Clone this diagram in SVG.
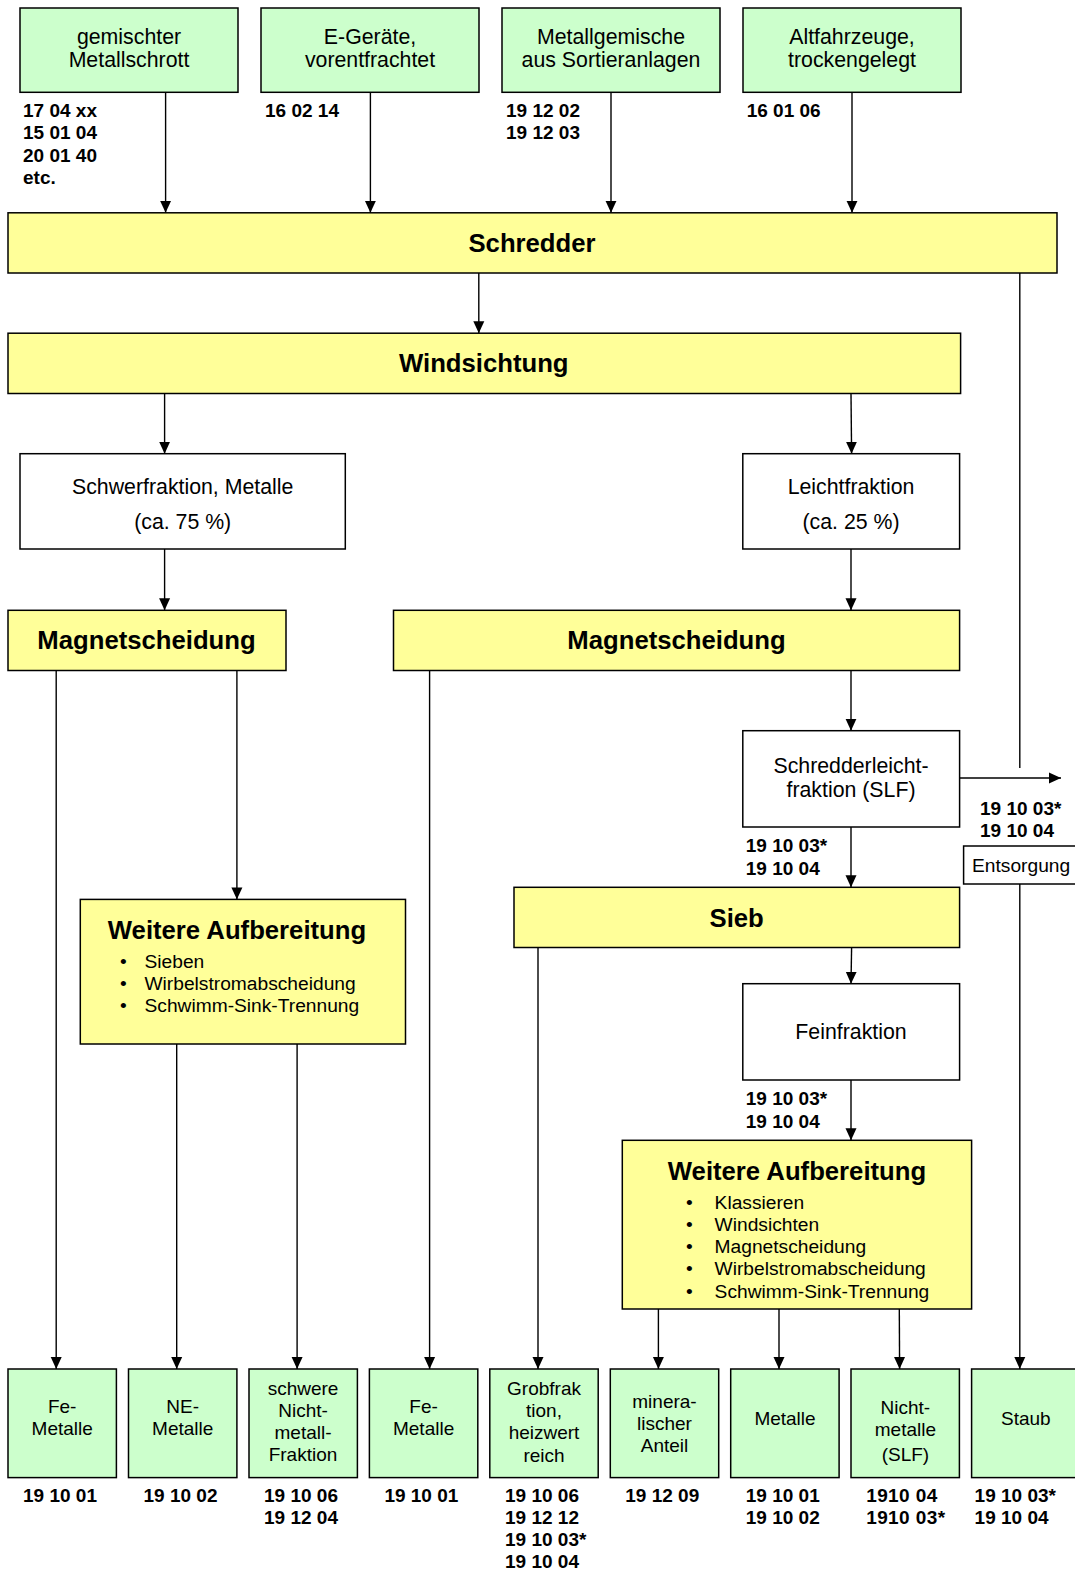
<svg xmlns="http://www.w3.org/2000/svg" width="1075" height="1574" viewBox="0 0 1075 1574">
<defs>
<marker id="ah" markerUnits="userSpaceOnUse" markerWidth="12" markerHeight="12" viewBox="0 0 12 12" refX="12" refY="6" orient="auto">
<path d="M0,0.5 L12,6 L0,11.5 Z" fill="#000"/>
</marker>
<style>
text{font-family:"Liberation Sans",Arial,sans-serif;fill:#000}
.g{fill:#ccffcc;stroke:#000;stroke-width:1.5}
.y{fill:#ffff99;stroke:#000;stroke-width:1.5}
.w{fill:#fff;stroke:#000;stroke-width:1.5}
.t{font-size:21.3px;text-anchor:middle}
.tb{font-size:19px;text-anchor:middle}
.h{font-size:25.7px;font-weight:bold;text-anchor:middle}
.c{font-size:19px;font-weight:bold}
.b{font-size:19.2px}
.l{fill:none;stroke:#000;stroke-width:1.4}
.a{fill:none;stroke:#000;stroke-width:1.4;marker-end:url(#ah)}
</style>
</defs>
<rect width="1075" height="1574" fill="#fff"/>

<g id="connectors">
<line class="a" x1="165.6" y1="92.3" x2="165.6" y2="212.8"/>
<line class="a" x1="370.4" y1="92.3" x2="370.4" y2="212.8"/>
<line class="a" x1="611" y1="92.3" x2="611" y2="212.8"/>
<line class="a" x1="852" y1="92.3" x2="852" y2="212.8"/>
<line class="a" x1="478.8" y1="273" x2="478.8" y2="333.2"/>
<line class="l" x1="1019.8" y1="273" x2="1019.8" y2="768"/>
<line class="a" x1="959.6" y1="778" x2="1061" y2="778"/>
<line class="a" x1="1019.8" y1="884" x2="1019.8" y2="1369"/>
<line class="a" x1="164.6" y1="393.5" x2="164.6" y2="453.7"/>
<line class="a" x1="851" y1="393.5" x2="851.6" y2="453.7"/>
<line class="a" x1="164.6" y1="549" x2="164.6" y2="610.3"/>
<line class="a" x1="851" y1="549" x2="851" y2="610.3"/>
<line class="a" x1="56.2" y1="670.5" x2="56.2" y2="1369"/>
<line class="a" x1="236.9" y1="670.5" x2="236.9" y2="899.4"/>
<line class="a" x1="176.7" y1="1044" x2="176.7" y2="1369"/>
<line class="a" x1="297.1" y1="1044" x2="297.1" y2="1369"/>
<line class="a" x1="429.6" y1="670.5" x2="429.6" y2="1369"/>
<line class="a" x1="851" y1="670.5" x2="851" y2="730.7"/>
<line class="a" x1="851" y1="827" x2="851" y2="887.3"/>
<line class="a" x1="538" y1="947.5" x2="538" y2="1369"/>
<line class="a" x1="851.6" y1="947.5" x2="851" y2="983.7"/>
<line class="a" x1="851" y1="1080" x2="851" y2="1140.3"/>
<line class="a" x1="658.4" y1="1309" x2="658.4" y2="1369"/>
<line class="a" x1="779" y1="1309" x2="779" y2="1369"/>
<line class="a" x1="899.3" y1="1309" x2="899.6" y2="1369"/>
</g>

<g id="in1">
<rect class="g" x="20" y="8" width="218" height="84.3"/>
<text class="t" x="129" y="43.5">gemischter</text>
<text class="t" x="129" y="66.5">Metallschrott</text>
<text class="c" x="23" y="117">17 04 xx</text>
<text class="c" x="23" y="139">15 01 04</text>
<text class="c" x="23" y="162">20 01 40</text>
<text class="c" x="23" y="184">etc.</text>
</g>
<g id="in2">
<rect class="g" x="261" y="8" width="218" height="84.3"/>
<text class="t" x="370" y="43.5">E-Geräte,</text>
<text class="t" x="370" y="66.5">vorentfrachtet</text>
<text class="c" x="265" y="117">16 02 14</text>
</g>
<g id="in3">
<rect class="g" x="502" y="8" width="218" height="84.3"/>
<text class="t" x="611" y="43.5">Metallgemische</text>
<text class="t" x="611" y="66.5">aus Sortieranlagen</text>
<text class="c" x="506" y="117">19 12 02</text>
<text class="c" x="506" y="139">19 12 03</text>
</g>
<g id="in4">
<rect class="g" x="743" y="8" width="218" height="84.3"/>
<text class="t" x="852" y="43.5">Altfahrzeuge,</text>
<text class="t" x="852" y="66.5">trockengelegt</text>
<text class="c" x="746.7" y="117">16 01 06</text>
</g>

<g id="schredder">
<rect class="y" x="8" y="212.8" width="1049" height="60.2"/>
<text class="h" x="532" y="252">Schredder</text>
</g>
<g id="windsichtung">
<rect class="y" x="8" y="333.2" width="952.6" height="60.3"/>
<text class="h" x="483.8" y="372">Windsichtung</text>
</g>
<g id="schwerfraktion">
<rect class="w" x="20" y="453.7" width="325.3" height="95.3"/>
<text class="t" x="182.7" y="493.5">Schwerfraktion, Metalle</text>
<text class="t" x="182.7" y="528.5">(ca. 75 %)</text>
</g>
<g id="leichtfraktion">
<rect class="w" x="742.8" y="453.7" width="216.8" height="95.3"/>
<text class="t" x="851" y="493.5">Leichtfraktion</text>
<text class="t" x="851" y="528.5">(ca. 25 %)</text>
</g>
<g id="magnet1">
<rect class="y" x="8" y="610.3" width="278" height="60.2"/>
<text class="h" x="146.5" y="649">Magnetscheidung</text>
</g>
<g id="magnet2">
<rect class="y" x="393.5" y="610.3" width="566.1" height="60.2"/>
<text class="h" x="676.5" y="649">Magnetscheidung</text>
</g>
<g id="aufbereitung1">
<rect class="y" x="80.3" y="899.4" width="325.2" height="144.6"/>
<text class="h" x="237" y="938.5">Weitere Aufbereitung</text>
<text class="b" x="120" y="968">•</text><text class="b" x="144.5" y="968">Sieben</text>
<text class="b" x="120" y="990">•</text><text class="b" x="144.5" y="990">Wirbelstromabscheidung</text>
<text class="b" x="120" y="1012">•</text><text class="b" x="144.5" y="1012">Schwimm-Sink-Trennung</text>
</g>
<g id="slf">
<rect class="w" x="742.8" y="730.7" width="216.8" height="96.3"/>
<text class="t" x="851" y="772.5">Schredderleicht-</text>
<text class="t" x="851" y="796.5">fraktion (SLF)</text>
<text class="c" x="745.8" y="851.5">19 10 03*</text>
<text class="c" x="745.8" y="874.5">19 10 04</text>
</g>
<g id="entsorgung">
<text class="c" x="980" y="814.5">19 10 03*</text>
<text class="c" x="980" y="836.5">19 10 04</text>
<rect class="w" x="963.6" y="846" width="116" height="38"/>
<text class="b" x="972" y="872">Entsorgung</text>
</g>
<g id="sieb">
<rect class="y" x="514" y="887.3" width="445.6" height="60.2"/>
<text class="h" x="736.7" y="927.4">Sieb</text>
</g>
<g id="feinfraktion">
<rect class="w" x="742.8" y="983.7" width="216.8" height="96.3"/>
<text class="t" x="851" y="1038.5">Feinfraktion</text>
<text class="c" x="745.8" y="1104.5">19 10 03*</text>
<text class="c" x="745.8" y="1127.5">19 10 04</text>
</g>
<g id="aufbereitung2">
<rect class="y" x="622.3" y="1140.3" width="349.3" height="168.7"/>
<text class="h" x="797" y="1179.5">Weitere Aufbereitung</text>
<text class="b" x="686" y="1209">•</text><text class="b" x="714.6" y="1209">Klassieren</text>
<text class="b" x="686" y="1231">•</text><text class="b" x="714.6" y="1231">Windsichten</text>
<text class="b" x="686" y="1253">•</text><text class="b" x="714.6" y="1253">Magnetscheidung</text>
<text class="b" x="686" y="1275">•</text><text class="b" x="714.6" y="1275">Wirbelstromabscheidung</text>
<text class="b" x="686" y="1297.5">•</text><text class="b" x="714.6" y="1297.5">Schwimm-Sink-Trennung</text>
</g>

<g id="out1">
<rect class="g" x="8" y="1369" width="108.4" height="108.6"/>
<text class="tb" x="62.2" y="1413">Fe-</text>
<text class="tb" x="62.2" y="1435">Metalle</text>
<text class="c" x="23" y="1502">19 10 01</text>
</g>
<g id="out2">
<rect class="g" x="128.5" y="1369" width="108.4" height="108.6"/>
<text class="tb" x="182.7" y="1413">NE-</text>
<text class="tb" x="182.7" y="1435">Metalle</text>
<text class="c" x="143.5" y="1502">19 10 02</text>
</g>
<g id="out3">
<rect class="g" x="249" y="1369" width="108.4" height="108.6"/>
<text class="tb" x="303" y="1395">schwere</text>
<text class="tb" x="303" y="1417">Nicht-</text>
<text class="tb" x="303" y="1439">metall-</text>
<text class="tb" x="303" y="1461">Fraktion</text>
<text class="c" x="264" y="1502">19 10 06</text>
<text class="c" x="264" y="1524">19 12 04</text>
</g>
<g id="out4">
<rect class="g" x="369.4" y="1369" width="108.4" height="108.6"/>
<text class="tb" x="423.6" y="1413">Fe-</text>
<text class="tb" x="423.6" y="1435">Metalle</text>
<text class="c" x="384.4" y="1502">19 10 01</text>
</g>
<g id="out5">
<rect class="g" x="489.8" y="1369" width="108.4" height="108.6"/>
<text class="tb" x="544" y="1395">Grobfrak</text>
<text class="tb" x="544" y="1417">tion,</text>
<text class="tb" x="544" y="1439">heizwert</text>
<text class="tb" x="544" y="1462">reich</text>
<text class="c" x="505" y="1502">19 10 06</text>
<text class="c" x="505" y="1524">19 12 12</text>
<text class="c" x="505" y="1546">19 10 03*</text>
<text class="c" x="505" y="1568">19 10 04</text>
</g>
<g id="out6">
<rect class="g" x="610.3" y="1369" width="108.4" height="108.6"/>
<text class="tb" x="664.5" y="1408">minera-</text>
<text class="tb" x="664.5" y="1430">lischer</text>
<text class="tb" x="664.5" y="1452">Anteil</text>
<text class="c" x="625.3" y="1502">19 12 09</text>
</g>
<g id="out7">
<rect class="g" x="730.7" y="1369" width="108.4" height="108.6"/>
<text class="tb" x="785" y="1425">Metalle</text>
<text class="c" x="745.8" y="1502">19 10 01</text>
<text class="c" x="745.8" y="1524">19 10 02</text>
</g>
<g id="out8">
<rect class="g" x="851" y="1369" width="108.4" height="108.6"/>
<text class="tb" x="905.4" y="1414">Nicht-</text>
<text class="tb" x="905.4" y="1436">metalle</text>
<text class="tb" x="905.4" y="1461">(SLF)</text>
<text class="c" x="866.2" y="1502" letter-spacing="0.4">1910 04</text>
<text class="c" x="866.2" y="1524" letter-spacing="0.4">1910 03*</text>
</g>
<g id="out9">
<rect class="g" x="971.6" y="1369" width="108.4" height="108.6"/>
<text class="tb" x="1025.8" y="1425">Staub</text>
<text class="c" x="974.6" y="1502">19 10 03*</text>
<text class="c" x="974.6" y="1524">19 10 04</text>
</g>
</svg>
